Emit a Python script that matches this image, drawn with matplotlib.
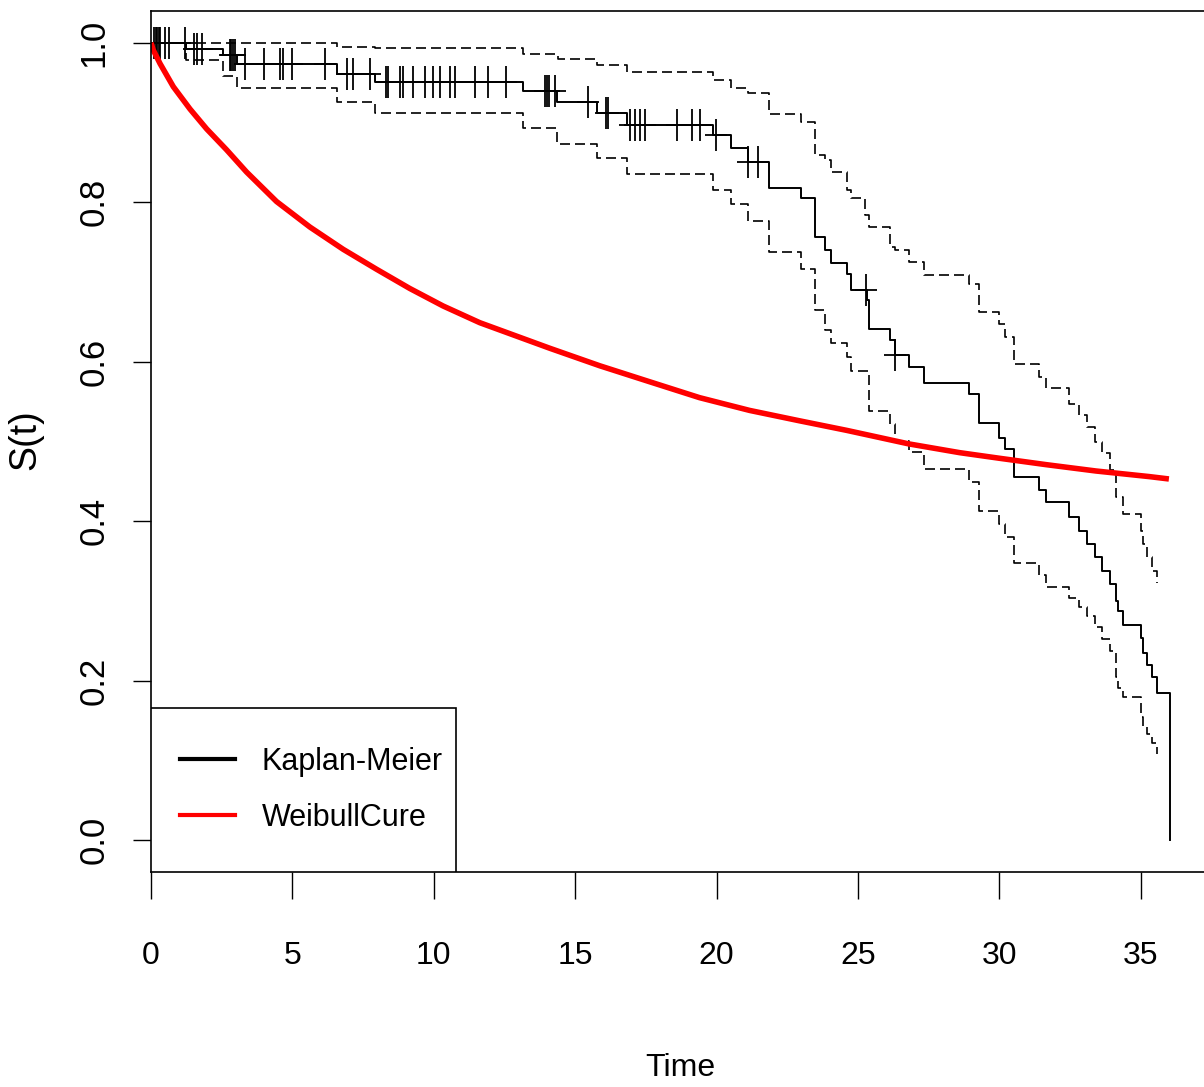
import numpy as np
import matplotlib
matplotlib.use("Agg")
import matplotlib.pyplot as plt
from matplotlib.path import Path
from matplotlib.lines import Line2D
from matplotlib.patches import Rectangle

# Kaplan-Meier estimate (step times and survival after each step)
km_time = [0, 1.24, 2.54, 3.04, 6.57, 7.92, 13.14, 14.35, 15.76, 16.82, 19.86,
           20.53, 21.10, 21.84, 23.00, 23.50, 23.82, 24.06, 24.60, 24.77, 25.34,
           25.40, 26.14, 26.33, 26.80, 27.35, 28.94, 29.29, 30.00, 30.21, 30.53,
           31.41, 31.66, 32.47, 32.83, 33.11, 33.39, 33.64, 33.92, 34.13, 34.20,
           34.38, 35.02, 35.09, 35.23, 35.40, 35.58, 36.03]
km_surv = [1.0, 0.992, 0.985, 0.973, 0.961, 0.951, 0.940, 0.926, 0.912, 0.897, 0.884,
           0.868, 0.851, 0.818, 0.805, 0.757, 0.740, 0.724, 0.710, 0.690, 0.677,
           0.641, 0.627, 0.609, 0.593, 0.573, 0.559, 0.523, 0.505, 0.491, 0.455,
           0.439, 0.424, 0.405, 0.388, 0.371, 0.355, 0.338, 0.321, 0.300, 0.287,
           0.270, 0.253, 0.235, 0.220, 0.204, 0.185, 0.0]

# censored observations
cens_time = [0.11, 0.16, 0.21, 0.27, 0.32, 0.49, 0.65, 1.20, 1.52, 1.64, 1.79,
             2.79, 2.84, 2.90, 2.97, 3.32, 3.99, 4.56, 4.67, 4.97, 6.15, 6.92,
             7.15, 7.74, 8.30, 8.37, 8.80, 8.92, 9.27, 9.68, 9.98, 10.21, 10.57,
             10.74, 11.45, 11.92, 12.54, 13.92, 13.99, 14.06, 14.30, 15.44, 16.10,
             16.17, 16.93, 17.10, 17.28, 17.46, 18.62, 19.15, 19.43, 19.98, 21.11,
             21.46, 25.29, 26.33]

# confidence limits
up_time = [0, 6.57, 7.92, 13.14, 14.38, 15.76, 16.82, 19.86, 20.53, 21.10, 21.84,
           23.00, 23.50, 23.82, 24.06, 24.60, 24.77, 25.25, 25.40, 26.14, 26.33,
           26.80, 27.35, 28.94, 29.29, 30.00, 30.21, 30.53, 31.41, 31.66, 32.47,
           32.83, 33.11, 33.39, 33.64, 33.92, 34.13, 34.38, 35.02, 35.09, 35.23,
           35.40, 35.58]
up_surv = [1.0, 0.995, 0.993, 0.986, 0.980, 0.972, 0.964, 0.954, 0.944, 0.937, 0.911,
           0.901, 0.859, 0.853, 0.838, 0.815, 0.805, 0.784, 0.769, 0.744, 0.740,
           0.725, 0.709, 0.698, 0.662, 0.648, 0.631, 0.597, 0.581, 0.567, 0.547,
           0.533, 0.518, 0.499, 0.485, 0.464, 0.430, 0.409, 0.388, 0.372, 0.355,
           0.338, 0.323]
lo_time = [0, 1.24, 2.54, 3.04, 6.57, 7.92, 13.14, 14.35, 15.76, 16.82, 19.86,
           20.53, 21.10, 21.84, 23.00, 23.50, 23.82, 24.06, 24.60, 24.77, 25.40,
           26.14, 26.33, 26.80, 27.35, 28.94, 29.29, 30.00, 30.21, 30.53, 31.41,
           31.66, 32.47, 32.83, 33.11, 33.39, 33.64, 33.92, 34.13, 34.20, 34.38,
           35.02, 35.09, 35.23, 35.40, 35.58]
lo_surv = [1.0, 0.978, 0.958, 0.943, 0.926, 0.912, 0.893, 0.873, 0.855, 0.836, 0.815,
           0.798, 0.776, 0.738, 0.717, 0.665, 0.640, 0.623, 0.606, 0.589, 0.538,
           0.522, 0.501, 0.487, 0.466, 0.449, 0.413, 0.397, 0.380, 0.348, 0.332,
           0.318, 0.304, 0.292, 0.281, 0.267, 0.252, 0.237, 0.205, 0.191, 0.179,
           0.154, 0.143, 0.133, 0.122, 0.108]

# fitted Weibull cure model
wc_time = [0.0, 0.08, 0.32, 0.79, 1.38, 1.97, 2.67, 3.38, 4.44, 5.62, 6.80, 7.98,
           9.15, 10.33, 11.63, 14.1, 15.87, 17.63, 19.4, 21.17, 22.93, 24.6,
           26.8, 28.6, 30.0, 31.65, 33.42, 35.3, 36.0]
wc_surv = [1.0, 0.991, 0.974, 0.945, 0.917, 0.892, 0.866, 0.838, 0.801, 0.769, 0.741,
           0.716, 0.692, 0.670, 0.649, 0.617, 0.595, 0.575, 0.555, 0.539, 0.526,
           0.514, 0.497, 0.486, 0.479, 0.471, 0.463, 0.456, 0.453]

x_ticks = [0, 5, 10, 15, 20, 25, 30, 35]
y_ticks = [0.0, 0.2, 0.4, 0.6, 0.8, 1.0]
legend_labels = ["Kaplan-Meier", "WeibullCure"]

font = "Liberation Sans"

fig = plt.figure(figsize=(12.04, 10.87), dpi=100)
ax = fig.add_axes([151 / 1204, 215 / 1087, 1059.5 / 1204, 861 / 1087])

ax.step(km_time, km_surv, where="post", color="black", lw=1.4)
ax.step(up_time, up_surv, where="post", color="black", lw=1.2, ls=(0, (6, 3)))
ax.step(lo_time, lo_surv, where="post", color="black", lw=1.2, ls=(0, (6, 3)))

# censor marks sit on the KM curve
idx = np.searchsorted(km_time, cens_time, side="right") - 1
cens_surv = np.array(km_surv)[idx]
plus = Path([(-1, 0), (1, 0), (0, -1.5), (0, 1.5)],
            [Path.MOVETO, Path.LINETO, Path.MOVETO, Path.LINETO])
ax.plot(cens_time, cens_surv, ls="none", marker=plus, ms=23, mew=1.3, color="black")

ax.plot(wc_time, wc_surv, color="red", lw=4.0, solid_capstyle="butt")

ax.set_xlim(0, 36.03 * 1.04)
ax.set_ylim(-0.04, 1.04)
ax.spines["right"].set_visible(False)
for s in ["left", "top", "bottom"]:
  ax.spines[s].set_linewidth(1.2)

ax.set_xticks(x_ticks)
ax.set_xticklabels([str(v) for v in x_ticks], fontfamily=font, fontsize=23)
ax.set_yticks(y_ticks)
ax.set_yticklabels(["%.1f" % v for v in y_ticks], fontfamily=font, fontsize=25,
                   rotation=90, va="center")
ax.tick_params(axis="x", length=19.4, width=1.0, pad=30)
ax.tick_params(axis="y", length=13, width=1.0, pad=16)

ax.set_xlabel("Time", fontfamily=font, fontsize=23)
ax.xaxis.label.set_va("center")
ax.xaxis.set_label_coords(0.5, -0.228)
ax.set_ylabel("S(t)", fontfamily=font, fontsize=27)
ax.yaxis.label.set_va("center")
ax.yaxis.set_label_coords(-0.119, 0.502)

# legend box in the bottom-left corner, like R's legend("bottomleft")
box_w, box_h = 305 / 1059.5, 164 / 861
ax.add_patch(Rectangle((0, 0), box_w, box_h, transform=ax.transAxes,
                       fc="white", ec="black", lw=1.2, zorder=4))
handles = [Line2D([], [], color="black", lw=3), Line2D([], [], color="red", lw=3)]
leg = ax.legend(handles, legend_labels, loc="center left",
                bbox_to_anchor=(0, 0, box_w, box_h), borderaxespad=0.95,
                borderpad=0, frameon=False, prop={"family": font, "size": 22},
                handlelength=1.8, handletextpad=0.88, labelspacing=0.85)
leg.set_zorder(5)

fig.savefig("out.png", dpi=100)
